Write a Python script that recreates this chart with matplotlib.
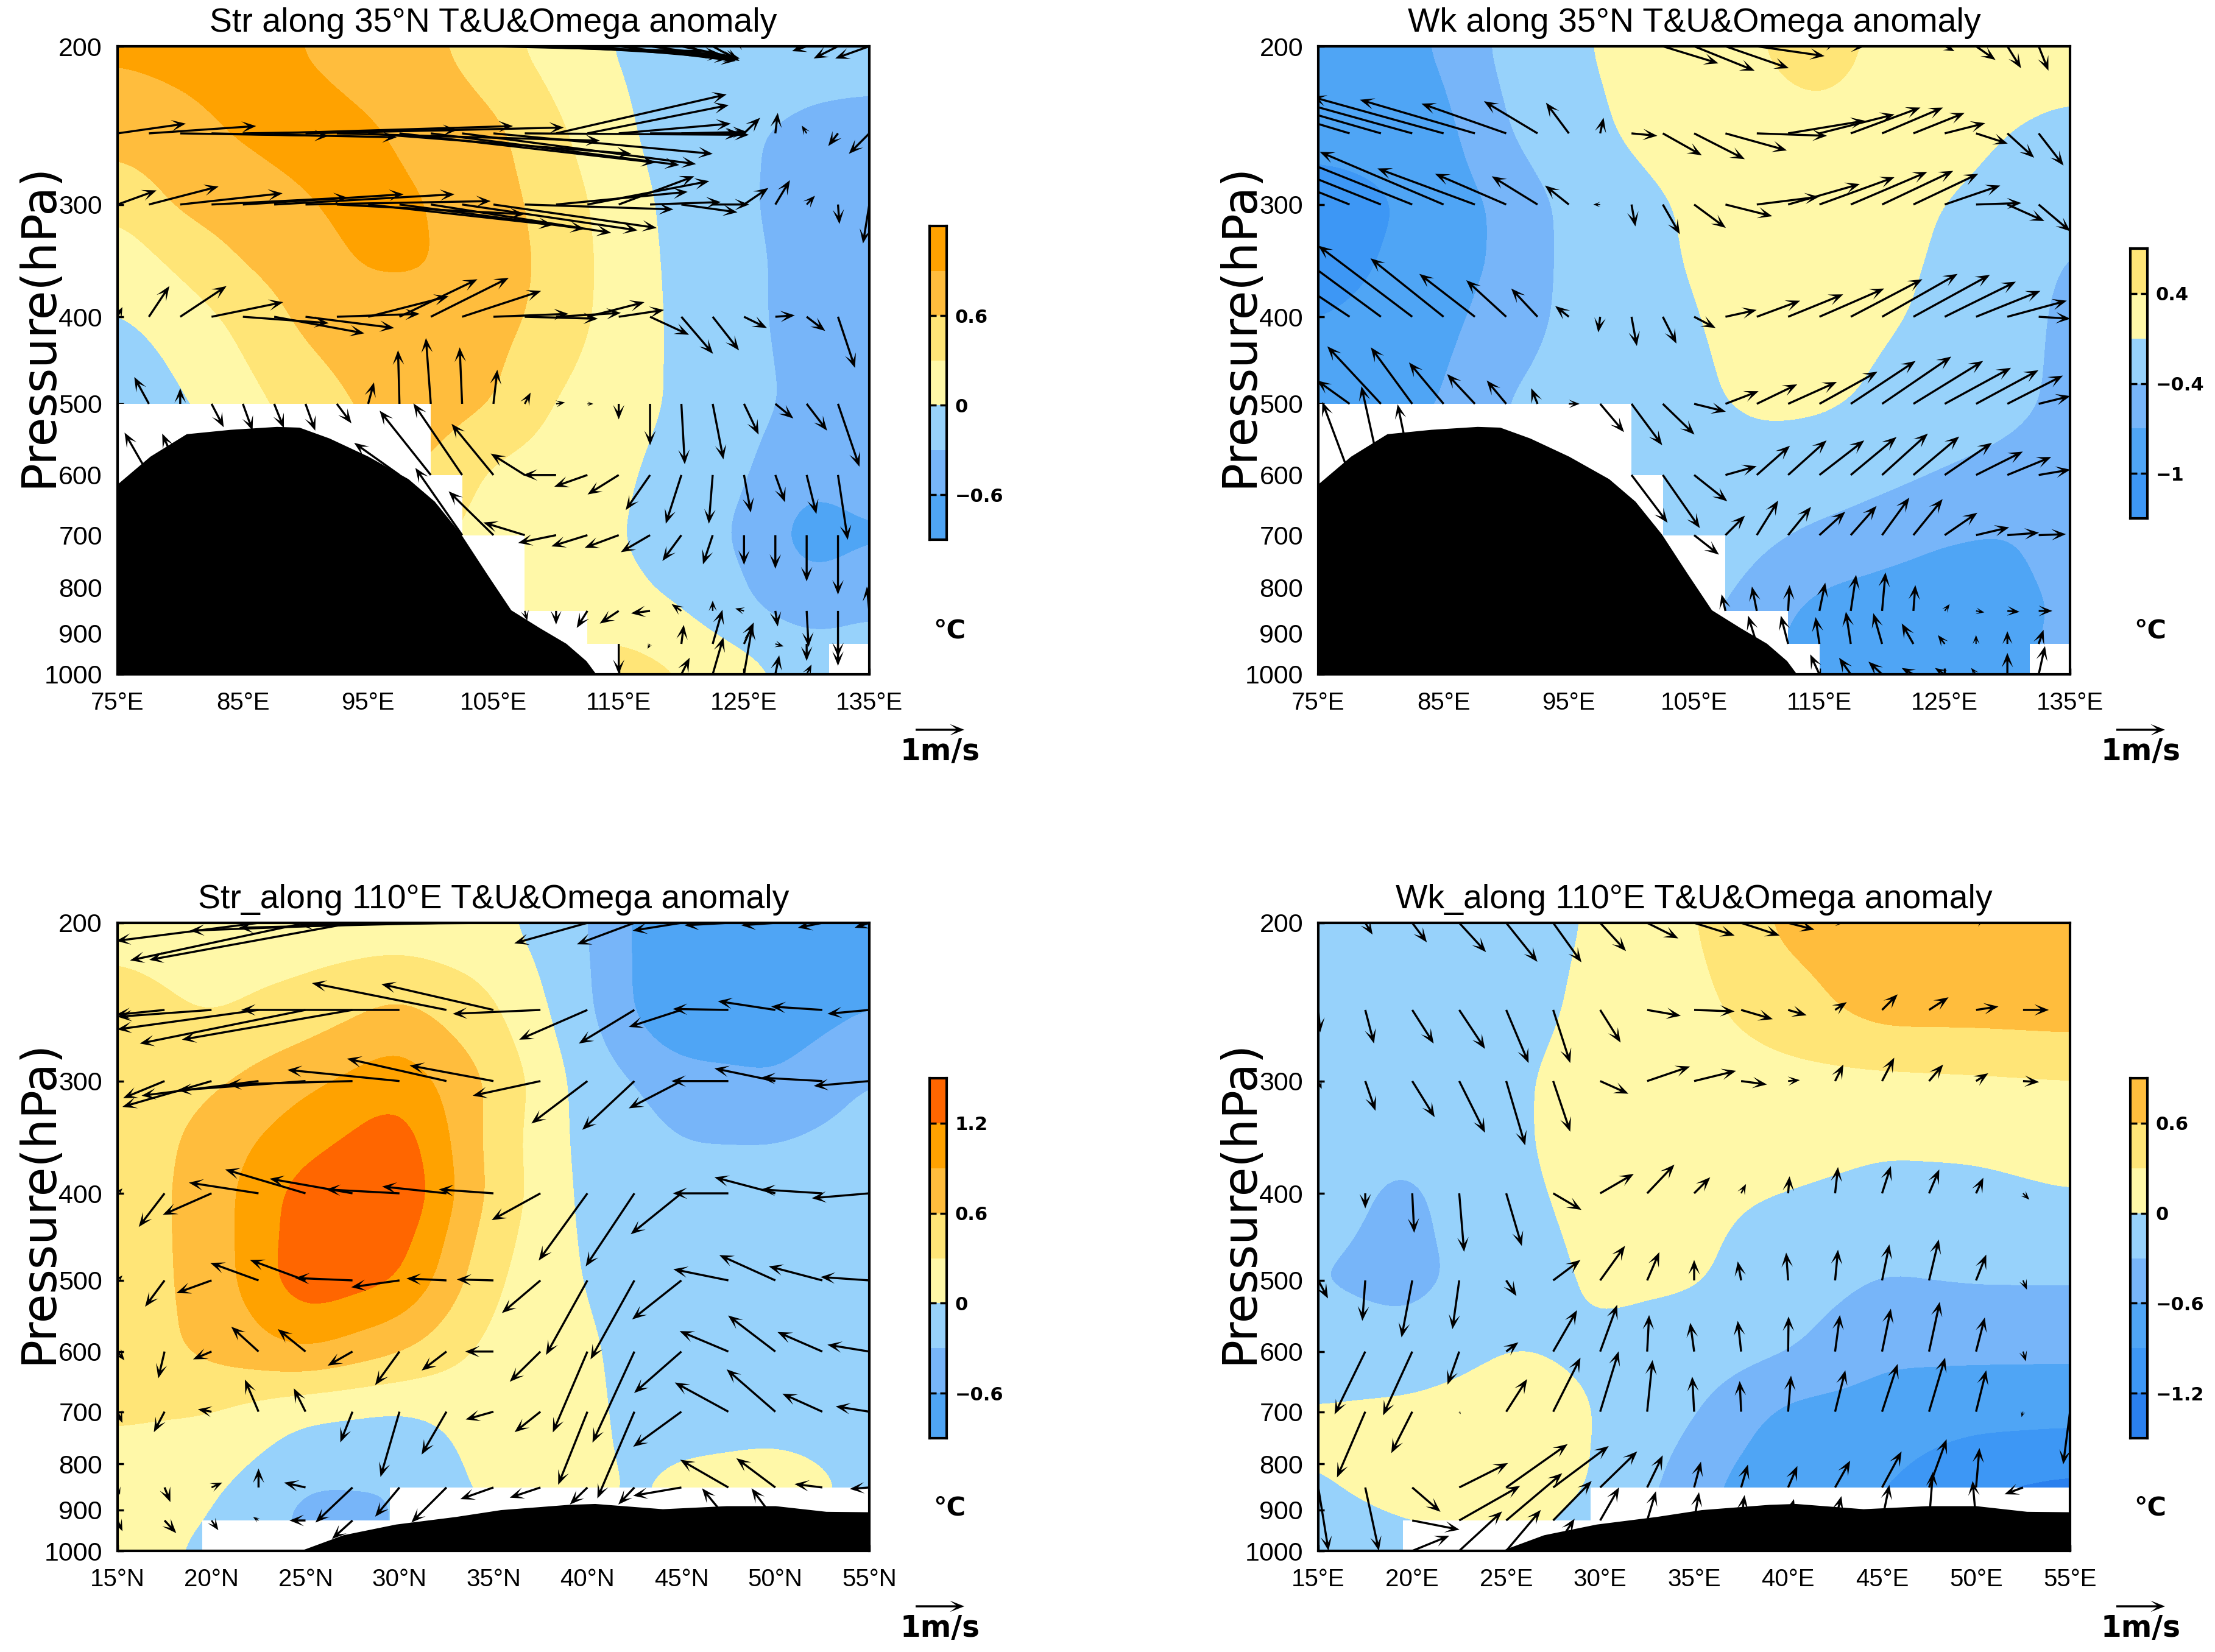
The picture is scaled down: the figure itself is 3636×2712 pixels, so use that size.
import numpy as np
import matplotlib
matplotlib.use('Agg')
import matplotlib.pyplot as plt

n = np.nan
W, H = 3637, 2712

# temperature anomaly, one row per level
t_levels = [200, 250, 300, 350, 400, 500, 600, 700, 850, 925, 1000]
lon_t = [75, 80, 85, 90, 95, 100, 105, 110, 115, 120, 125, 130, 135]
lat_t = [15, 20, 25, 30, 35, 40, 45, 50, 55]
lat_t2 = [15, 20, 25, 30, 35, 40, 42.5, 45, 50, 55]

t_str35 = [
    [.95, .98, 1.0, .89, .78, .66, .41, .16, -.03, -.1, -.15, -.2, -.2],
    [.72, .82, .93, 1.0, .94, .8, .68, .36, .05, -.13, -.28, -.35, -.38],
    [.35, .65, .76, .88, 1.0, .9, .72, .48, .14, -.1, -.28, -.38, -.42],
    [.1, .35, .6, .76, .94, .92, .74, .52, .16, -.08, -.25, -.38, -.42],
    [-.02, .14, .38, .68, .75, .8, .7, .5, .15, -.06, -.24, -.4, -.42],
    [-.3, -.03, .18, .45, .65, .72, .62, .27, .12, -.05, -.2, -.38, -.42],
    [-.4, -.2, 0, .3, .55, .6, .22, .15, .05, -.12, -.27, -.55, -.45],
    [-.4, -.2, 0, .3, .5, .4, .12, .08, .02, -.15, -.35, -.75, -.64],
    [.3, .3, .3, .3, .3, .2, .12, .1, .07, .01, -.25, -.45, -.33],
    [.3, .3, .3, .3, .3, .2, .2, .28, .35, .17, -.03, -.22, -.2],
    [.3, .3, .3, .3, .3, .3, .3, .35, .4, .33, .1, -.1, -.2],
]
t_wk35 = [
    [-.85, -.8, -.68, -.3, -.07, .12, .2, .35, .7, .25, .2, .15, .15],
    [-.9, -.88, -.8, -.42, -.15, .05, .15, .2, .2, .17, .12, 0, -.08],
    [-1.15, -1.05, -.85, -.64, -.32, -.1, .05, .12, .12, .08, 0, -.12, -.32],
    [-1.2, -.98, -.82, -.65, -.32, -.12, .03, .1, .1, .06, -.03, -.2, -.45],
    [-1.0, -.9, -.78, -.57, -.33, -.15, -.01, .1, .1, .04, -.06, -.24, -.5],
    [-.9, -.8, -.7, -.38, -.28, -.18, -.06, .06, .05, -.05, -.2, -.32, -.48],
    [-.8, -.7, -.6, -.4, -.3, -.28, -.22, -.15, -.2, -.32, -.43, -.5, -.55],
    [-.8, -.7, -.6, -.4, -.3, -.1, -.15, -.33, -.47, -.58, -.68, -.72, -.58],
    [-.5, -.5, -.5, -.4, -.3, -.2, -.3, -.55, -.8, -.85, -.87, -.8, -.65],
    [-.5, -.5, -.5, -.4, -.3, -.3, -.4, -.6, -.85, -.9, -.9, -.8, -.6],
    [-.5, -.5, -.5, -.4, -.3, -.3, -.4, -.6, -.85, -.9, -.9, -.8, -.6],
]
t_str110 = [
    [.2, .15, .12, .1, .08, -.28, -.62, -.98, -.8, -.75],
    [.42, .27, .42, .68, .35, -.25, -.62, -.95, -.8, -.6],
    [.4, .55, .83, 1.1, .55, -.15, -.3, -.45, -.58, -.28],
    [.38, .72, 1.1, 1.4, .48, -.12, -.2, -.3, -.3, -.2],
    [.4, .75, 1.35, 1.5, .5, -.1, -.15, -.2, -.2, -.18],
    [.42, .72, 1.42, 1.22, .33, -.03, -.1, -.15, -.15, -.15],
    [.42, .68, .9, .62, .2, .05, -.1, -.15, -.13, -.12],
    [.35, .3, .05, -.03, .12, .07, -.08, -.12, -.1, -.1],
    [.12, .05, -.31, -.31, .1, .06, -.03, .07, .12, -.05],
    [.1, 0, -.4, -.3, 0, 0, -.03, 0, 0, -.05],
    [.1, -.05, -.3, -.3, 0, 0, -.03, 0, 0, -.05],
]
t_wk110 = [
    [-.15, -.15, -.12, .03, .28, .68, .75, .75, .75],
    [-.2, -.2, -.12, .08, .22, .47, .72, .72, .75],
    [-.2, -.2, -.06, .14, .15, .2, .22, .25, .28],
    [-.25, -.25, -.06, .14, .12, .12, .04, .04, .08],
    [-.22, -.35, -.08, .1, .05, -.01, -.08, -.05, 0],
    [-.3, -.38, -.15, .05, .03, -.15, -.32, -.28, -.28],
    [-.2, -.2, .01, -.05, -.15, -.28, -.55, -.55, -.55],
    [.04, .08, .18, -.01, -.28, -.68, -.72, -.78, -.8],
    [-.02, .1, .12, -.01, -.48, -.91, -.88, -1.2, -1.28],
    [-.1, 0, .1, -.1, -.5, -.9, -.9, -1.2, -1.3],
    [-.1, -.1, 0, -.1, -.5, -.9, -.9, -1.2, -1.3],
]

# wind arrows, tail at each grid point, level by level
wind_levels = [200, 250, 300, 400, 500, 600, 700, 850, 925, 1000]
lon_w = [75 + 2.5 * i for i in range(25)]
lat_w = [15 + 2.5 * i for i in range(17)]

u_str35 = [
    [n] * 12 + [4.3, 4, 3.4, 2.9, 2.4, 1.8, 1.2, .55, -.2, n, -.3, -.5, -.7],
    [1.4, 2.2, 3.05, 3.8, 4.4, 4.9, 5.3, 5.4, 5.4, 5.25, 5.1, 4.8, 4.5, 4.6, 3.5, 2.9, 2.3, 1.85, 1.35, .55, .33, .05, -.1, -.2, -.42],
    [.8, 1.43, 2.1, 2.8, 3.3, 3.7, 3.8, 3.85, 3.8, 3.8, 3.7, 3.6, 3.35, 3.05, 2.7, 2.5, 1.55, 1.45, 1.15, .75, .5, .3, .17, .03, -.13],
    [.1, .42, .95, 1.47, 1.76, 1.85, 1.82, 1.7, 1.65, 1.6, 1.6, 1.62, 1.54, 1.5, 1.33, 1.17, .93, .8, .65, .54, .47, .4, .38, .35, n],
    [n, -.3, 0, .25, .2, .2, .2, .3, .12, -.03, -.1, -.05, .08, .12, .18, .12, 0, 0, .07, .22, .3, .37, .42, .44, n],
    [n, -.5, -.37, n, n, n, n, n, n, -.93, -1.05, -1, -.86, -.7, -.68, -.68, -.64, -.5, -.32, -.08, .14, .2, .2, .2, n],
    [n] * 11 + [-.96, -.92, -.85, -.78, -.74, -.7, -.6, -.39, -.2, 0, 0, 0, 0, n],
    [n] * 13 + [.05, 0, -.22, -.39, -.39, -.2, 0, -.18, .05, .04, 0, -.05],
    [n] * 16 + [0, -.05, .05, .2, .2, .17, 0, 0, n],
    [n] * 18 + [.17, .22, .17, .08, .1, n, n],
]
v_str35 = [
    [n] * 12 + [-.1, -.15, -.2, -.25, -.3, -.25, -.25, -.3, .1, n, -.1, -.25, -.25],
    [.2, .15, -.05, -.08, .07, .15, .12, -.15, -.42, -.6, -.65, -.63, -.42, -.03, .8, .58, .2, 0, .03, -.03, .32, .42, .16, -.26, -.42],
    [.29, .37, .23, .14, .21, .21, .07, -.2, -.42, -.5, -.58, -.53, -.48, -.1, .26, .48, .58, .05, -.16, 0, .34, .5, .18, -.4, -.8],
    [.2, .63, .63, .3, -.13, -.34, -.23, .06, .42, .77, .8, .53, .06, -.04, .08, .3, .14, -.37, -.76, -.69, -.23, .03, -.29, -1.05, n],
    [n, .55, .32, -.48, -.55, -.5, -.55, -.4, .44, 1.1, 1.35, 1.16, .7, .23, .03, 0, -.32, -.85, -1.24, -1.14, -.63, -.3, -.55, -1.29, n],
    [n, .87, .85, n, n, n, n, n, n, .66, 1.32, 1.47, 1.05, .44, 0, -.24, -.4, -.72, -1, -1, -.77, -.56, -.8, -1.33, n],
    [n] * 11 + [1.38, .9, .26, -.16, -.23, -.26, -.35, -.53, -.6, -.61, -.69, -.95, -1.22, n],
    [n] * 13 + [-.2, -.28, -.35, -.26, -.05, .14, .21, .05, -.32, -.74, -.95, .5],
    [n] * 16 + [-.62, -.1, .39, .7, .44, -.05, -.35, -.45, n],
    [n] * 18 + [.34, .76, 1, .39, .2, n, n],
]
u_wk35 = [
    [n] * 11 + [1.14, 1.24, 1.3, 1.39, n, .4, .3, n, n, .2, .4, .28, .2, n],
    [-2.5, -2.5, -2.6, -2.7, -2.7, -2.36, -1.74, -1.1, -.47, .07, .53, .8, 1.04, 1.26, 1.44, 1.58, 1.54, 1.43, 1.25, 1.05, .83, .65, .55, .51, .3],
    [-2.5, -2.5, -2.5, -2.5, -2.54, -2, -1.46, -.94, -.49, -.14, .08, .35, .65, .96, 1.28, 1.47, 1.54, 1.57, 1.46, 1.33, 1.14, .93, .76, .65, n],
    [n, -1.5, -1.9, -1.93, -1.5, -1.14, -.82, -.54, -.28, -.04, .11, .28, .44, .64, .89, 1.13, 1.33, 1.47, 1.55, 1.57, 1.46, 1.32, 1.22, .65, n],
    [n, -.67, -1.1, -.85, -.71, -.57, -.4, -.13, .22, .49, .63, .65, .65, .68, .83, 1, 1.19, 1.33, 1.42, 1.43, 1.36, 1.28, 1.14, .65, n],
    [n, -.56, -.4, -.3, n, n, n, n, n, n, .74, .76, .68, .64, .68, .79, .92, .94, .94, .94, .97, .96, .9, .65, n],
    [n] * 12 + [.51, .4, .44, .47, .53, .53, .56, .6, .67, .68, .65, .56, n],
    [n] * 13 + [-.08, -.1, .03, .12, .11, .07, .04, .1, .17, .25, .28, n],
    [n] * 14 + [-.18, -.15, -.08, -.1, -.18, -.24, -.14, 0, 0, .1, n],
    [n] * 16 + [-.19, -.24, -.28, -.24, -.2, -.1, 0, .13, n],
]
v_wk35 = [
    [n] * 11 + [-.35, -.5, -.45, -.2, n, .1, 0, n, n, -.1, -.28, -.45, -.5, n],
    [.75, .75, .75, .75, .75, .69, .61, .66, .63, .32, -.05, -.45, -.53, -.35, -.05, .26, .39, .53, .53, .42, .21, -.21, -.5, -.66, -.5],
    [1, 1, 1, 1, 1.08, .74, .63, .58, .39, 0, -.45, -.61, -.48, -.24, .16, .42, .56, .67, .69, .63, .39, .03, -.34, -.55, n],
    [n, 1, 1.4, 1.46, 1.2, .88, .75, .58, .22, -.32, -.6, -.55, -.23, .14, .33, .46, .58, .77, .88, .86, .72, .53, .33, -.04, n],
    [n, .48, 1.18, 1.16, .85, .61, .48, .32, 0, -.58, -.85, -.63, -.16, .26, .4, .45, .66, .88, .97, .88, .74, .69, .58, .16, n],
    [n, 1.5, 1.82, 1.45, n, n, n, n, n, n, -.98, -1.09, -.54, .18, .6, .71, .71, .78, .85, .79, .66, .48, .37, .11, n],
    [n] * 12 + [-.4, .4, .71, .58, .48, .6, .77, .74, .46, .16, .05, .02, n],
    [n] * 13 + [.34, .5, .53, .58, .74, .79, .53, .14, -.03, -.02, 0, n],
    [n] * 14 + [.58, .58, .55, .66, .63, .42, .18, .18, .26, .29, n],
    [n] * 16 + [.41, .34, .26, .13, .13, .13, .44, .58, n],
]
u_str110 = [
    [n, n, n, -2.92, -3.6, -4.17, -4.3, -4.26, -4, n, -1.5, -1.18, -1, -.9, -.7, -.5, -.3],
    [n, -1, -1.93, -2.9, -3.4, -3.5, -3.25, -2.76, -2.3, -1.8, -1.4, -1.14, -1.08, -1.14, -1.18, -1.05, -.86],
    [n, -.85, -1.83, -2.4, -2.63, -2.57, -2.3, -2.04, -1.72, -1.39, -1.15, -1.07, -1.08, -1.17, -1.25, -1.26, -1.14],
    [.1, -.53, -1, -1.43, -1.65, -1.7, -1.51, -1.32, -1.12, -1, -1, -1, -1.04, -1.14, -1.25, -1.26, -1.18],
    [.1, -.4, -.72, -.99, -1.14, -1.18, -.99, -.82, -.75, -.79, -.85, -.9, -1.01, -1.13, -1.15, -1.1, -1],
    [.14, -.13, -.38, -.56, -.57, -.51, -.5, -.51, -.58, -.63, -.71, -.86, -.97, -1, -.97, -.92, -.86],
    [.1, -.22, -.28, -.28, -.24, -.25, -.39, -.51, -.57, -.53, -.6, -.76, -.99, -1.1, -1, -.82, -.69],
    [.05, .12, .22, 0, -.44, -.76, -.5, -.72, -.68, -.63, -.36, -.33, -.99, -.99, -.8, -.57, -.4],
    [.1, .24, .14, -.11, -.33, -.42, n, n, n, n, n, n, n, -.54, -.49, n, n],
    [n] * 17,
]
v_str110 = [
    [n, n, n, -.37, -.77, -.76, -.16, -.1, -.03, n, -.42, -.44, -.16, -.05, -.05, -.1, -.1],
    [n, -.1, -.14, -.4, -.69, -.61, 0, .55, .53, -.08, -.61, -.69, -.35, .02, .18, .07, -.08],
    [n, -.35, -.53, -.3, -.19, -.07, .23, .46, .32, -.3, -.87, -1, -.56, 0, .26, .07, -.1],
    [.1, -.69, -.44, .22, .49, .3, .08, .14, .08, -.55, -1.38, -1.5, -.84, 0, .33, .08, -.1],
    [.1, -.54, -.26, .36, .42, .05, -.14, .04, .02, -.67, -1.53, -1.62, -.8, .23, .52, .29, .07],
    [-.18, -.55, -.16, .51, .46, -.29, -.69, -.39, 0, -.62, -1.66, -1.87, -.85, .42, .74, .4, .14],
    [-.23, -.42, .05, .66, .48, -.63, -1.34, -.88, -.16, -.42, -1.5, -1.78, -.72, .6, .87, .37, .11],
    [-.15, -.3, .1, .39, .1, -.72, -.6, -.72, -.24, -.21, -.35, -.35, -.17, .57, .6, .07, -.03],
    [-.22, -.26, -.2, .07, 0, -.38, n, n, n, n, n, n, n, .66, .66, n, n],
    [n] * 17,
]
u_wk110 = [
    [n, .15, .3, .55, .64, .58, .53, .64, .83, .79, .54, .17, n, n, .2, n, n],
    [.04, .18, .44, .53, .46, .35, .42, .69, .83, .65, .38, .24, .32, .4, .46, .53, n],
    [.07, .21, .46, .53, .39, .35, .58, .88, .86, .53, .24, .17, .25, .29, .25, .33, n],
    [n, 0, .04, .1, .32, .58, .69, .56, .33, .1, .03, .06, .18, .21, .15, .13, n],
    [.2, -.06, -.22, -.14, .21, .56, .51, .25, 0, -.07, -.04, .06, .15, .2, .21, .08, n],
    [n, -.63, -.6, -.24, .25, .49, .35, .04, -.08, -.07, .01, .1, .18, .22, .18, .06, n],
    [n, -.58, -.43, .03, .43, .56, .38, .11, -.04, -.03, .06, .21, .32, .33, .21, -.03, -.14],
    [.21, .28, .58, 1, 1.26, 1.14, .76, .32, .14, .14, .19, .31, .4, .36, .07, -.38, n],
    [n, n, .97, 1.25, 1.15, .79, .39, .18, .1, .07, .12, .13, .15, .08, -.07, n, n],
    [n, n, .76, .88, .71, .44] + [n] * 11,
]
v_wk110 = [
    [n, -.24, -.4, -.6, -.8, -.81, -.58, -.32, -.26, -.26, -.14, 0, n, n, .1, n, n],
    [-.46, -.69, -.69, -.8, -1.09, -1.09, -.67, -.12, -.03, -.19, -.11, .16, .32, .26, .07, 0, n],
    [-.16, -.61, -.74, -1.06, -1.32, -1.04, -.26, .3, .21, -.07, .02, .34, .48, .34, .16, -.02, n],
    [n, -.31, -.81, -1.2, -1.08, -.34, .4, .59, .33, .19, .35, .54, .56, .49, .32, -.13, n],
    [-.37, -.83, -1.17, -1, -.32, .42, .71, .58, .42, .39, .57, .63, .74, .84, .53, -.19, n],
    [n, -1.29, -1.31, -.68, .19, .85, .96, .75, .59, .63, .72, .75, .88, 1.02, .7, -.2, n],
    [n, -1.35, -.85, -.05, .67, 1.11, 1.24, 1.06, .72, .63, .74, .85, .98, 1.11, .85, -.11, -1.08],
    [-1.3, -1.3, -.5, .5, .89, .85, .74, .66, .53, .47, .44, .55, .74, .99, .81, -.14, n],
    [n, n, -.19, .71, .97, .81, .68, .6, .58, .52, .44, .5, .73, 1, .81, n, n],
    [n, n, .31, .81, .84, .66] + [n] * 11,
]

# terrain top (black) and the stepped edge of the missing data (white)
terrain_lon = [75, 77.6, 80.5, 84, 87.7, 89.5, 91.9, 95, 98.2, 100.3, 102.4, 104.5, 106.4, 108.7, 110.8, 112.4, 113.2, 135]
terrain_lon_p = [614, 572, 540, 534, 530, 531, 546, 572, 606, 642, 698, 774, 848, 888, 924, 966, 1000, 1000]
terrain_lat = [15, 24.7, 27, 29.8, 33, 35.4, 39, 40.4, 44, 47.4, 50, 52.7, 55]
terrain_lat_p = [1000, 1000, 960, 934, 916, 900, 888, 886, 898, 891, 891, 904, 905]
mask_lon = [75, 100, 102.5, 107.5, 112.5, 115, 131.8, 135]
mask_lon_p = [500, 600, 700, 850, 925, 1000, 925, 925]
mask_lat = [15, 19.5, 29.5, 55]
mask_lat_p = [1000, 925, 850, 850]

# shading colours by name so each panel can pick its own range
c_blue4 = '#2a80ee'
c_blue3 = '#3d97f5'
c_blue2 = '#4fa5f5'
c_blue1 = '#77b5f9'
c_blue0 = '#97d2fb'
c_yel0 = '#fff8a8'
c_yel1 = '#ffe577'
c_or1 = '#ffbd3d'
c_or2 = '#ffa200'
c_or3 = '#ff6600'

fonts_sans = ['Liberation Sans', 'DejaVu Sans']


def smooth_field(x, p, t):
    # finer grid and a light blur so the contours come out round
    t = np.array(t, dtype=float)
    xf = np.linspace(x[0], x[-1], 121)
    lp = np.log(p)
    lpf = np.linspace(lp[0], lp[-1], 161)
    a = np.array([np.interp(xf, x, row) for row in t])
    b = np.array([np.interp(lpf, lp, col) for col in a.T]).T
    kx = np.ones(7) / 7
    ky = np.ones(9) / 9
    for _ in range(2):
        b = np.pad(b, ((0, 0), (3, 3)), mode='edge')
        b = np.array([np.convolve(row, kx, mode='valid') for row in b])
        b = np.pad(b, ((4, 4), (0, 0)), mode='edge')
        b = np.array([np.convolve(col, ky, mode='valid') for col in b.T]).T
    return xf, np.exp(lpf), b


def panel(left, top, title, x_t, t, levels, colors, x_w, u, v, mask_x, mask_p, ter_x, ter_p, ticks, ticklabels,
          cb_top, cb_bottom, cb_labels):
    ax = fig.add_axes([left / W, 1 - (top + 1031) / H, 1234 / W, 1031 / H])
    xf, pf, tf = smooth_field(x_t, t_levels, t)
    ax.contourf(xf, pf, tf, levels=levels, colors=colors, extend='both')
    ax.fill_between(mask_x, mask_p, 1000, step='post', color='white', lw=0, zorder=2)
    X, P = np.meshgrid(x_w, wind_levels)
    q = ax.quiver(X, P, np.array(u), np.array(v), angles='uv', pivot='tail', scale_units='dots', scale=1 / 80,
                  units='dots', width=3.4, headwidth=5.5, headlength=7, headaxislength=4, minlength=0.1,
                  color='black', zorder=3)
    ax.fill_between(ter_x, ter_p, 1000, color='black', lw=0, zorder=4)
    ax.set_yscale('log')
    ax.set_ylim(1000, 200)
    ax.set_xlim(x_w[0], x_w[-1])
    ax.set_yticks([200, 300, 400, 500, 600, 700, 800, 900, 1000])
    ax.set_yticklabels(['200', '300', '400', '500', '600', '700', '800', '900', '1000'], family=fonts_sans, fontsize=31)
    ax.minorticks_off()
    ax.set_xticks(ticks)
    ax.set_xticklabels(ticklabels, family=fonts_sans, fontsize=29)
    ax.tick_params(axis='y', length=7, width=2.5, direction='in', pad=18)
    ax.tick_params(axis='x', length=7, width=2.5, direction='in', pad=20)
    for s in ax.spines.values():
        s.set_linewidth(3)
        s.set_zorder(6)
    ax.set_title(title, fontsize=40, family=fonts_sans, pad=17)
    ax.text((27 - 83) / 532, 0.556, 'Pressure(hPa)', transform=ax.transAxes, rotation=90, ha='center', va='center',
            fontsize=56, family='DejaVu Sans')

    # colour bar, one box per interval
    cax = fig.add_axes([(left + 1333) / W, 1 - cb_bottom / H, 28 / W, (cb_bottom - cb_top) / H])
    lv = np.arange(len(colors) + 1)
    for k, c in enumerate(colors):
        cax.fill_between([0, 1], lv[k], lv[k + 1], color=c, lw=0)
    cax.set_xlim(0, 1)
    cax.set_ylim(0, len(colors))
    cax.set_xticks([])
    cax.yaxis.tick_right()
    cax.set_yticks([k + 1 for k, lab in cb_labels])
    cax.set_yticklabels([lab for k, lab in cb_labels], fontsize=22, fontweight='bold', family='DejaVu Sans')
    cax.tick_params(axis='y', length=8, width=2.5, direction='in', pad=10, left=True, right=True)
    for s in cax.spines.values():
        s.set_linewidth(3)
    fig.text((left + 1366) / W, 1 - (top + 960) / H, '°C', fontsize=31, fontweight='bold', ha='center', va='center',
             family='DejaVu Sans')
    ax.quiverkey(q, (left + 1350) / W, 1 - (top + 1122) / H, 1, '1m/s', coordinates='figure', labelpos='S', labelsep=0.12,
                 fontproperties={'size': 35, 'weight': 'bold', 'family': 'DejaVu Sans'})
    return ax


fig = plt.figure(figsize=(W / 100, H / 100), dpi=100)

lon_ticks = [75, 85, 95, 105, 115, 125, 135]
lon_labels = ['75°E', '85°E', '95°E', '105°E', '115°E', '125°E', '135°E']
lat_ticks = [15, 20, 25, 30, 35, 40, 45, 50, 55]
latn_labels = ['15°N', '20°N', '25°N', '30°N', '35°N', '40°N', '45°N', '50°N', '55°N']
late_labels = ['15°E', '20°E', '25°E', '30°E', '35°E', '40°E', '45°E', '50°E', '55°E']

panel(193, 76, 'Str along 35°N T&U&Omega anomaly', lon_t, t_str35, [-.6, -.3, 0, .3, .6, .9],
      [c_blue2, c_blue1, c_blue0, c_yel0, c_yel1, c_or1, c_or2], lon_w, u_str35, v_str35, mask_lon, mask_lon_p,
      terrain_lon, terrain_lon_p, lon_ticks, lon_labels, 371, 886,
      [(0, '\u22120.6'), (2, '0'), (4, '0.6')])
panel(2164, 76, 'Wk along 35°N T&U&Omega anomaly', lon_t, t_wk35, [-1, -.7, -.4, 0, .4],
      [c_blue3, c_blue2, c_blue1, c_blue0, c_yel0, c_yel1], lon_w, u_wk35, v_wk35, mask_lon, mask_lon_p,
      terrain_lon, terrain_lon_p, lon_ticks, lon_labels, 408, 851,
      [(0, '\u22121'), (2, '\u22120.4'), (4, '0.4')])
panel(193, 1515, 'Str_along 110°E T&U&Omega anomaly', lat_t2, t_str110, [-.6, -.3, 0, .3, .6, .9, 1.2],
      [c_blue2, c_blue1, c_blue0, c_yel0, c_yel1, c_or1, c_or2, c_or3], lat_w, u_str110, v_str110, mask_lat, mask_lat_p,
      terrain_lat, terrain_lat_p, lat_ticks, latn_labels, 1770, 2361,
      [(0, '\u22120.6'), (2, '0'), (4, '0.6'), (6, '1.2')])
panel(2164, 1515, 'Wk_along 110°E T&U&Omega anomaly', lat_t, t_wk110, [-1.2, -.9, -.6, -.3, 0, .3, .6],
      [c_blue4, c_blue3, c_blue2, c_blue1, c_blue0, c_yel0, c_yel1, c_or1], lat_w, u_wk110, v_wk110, mask_lat, mask_lat_p,
      terrain_lat, terrain_lat_p, lat_ticks, late_labels, 1770, 2361,
      [(0, '\u22121.2'), (2, '\u22120.6'), (4, '0'), (6, '0.6')])

fig.savefig('out.png', dpi=100)
